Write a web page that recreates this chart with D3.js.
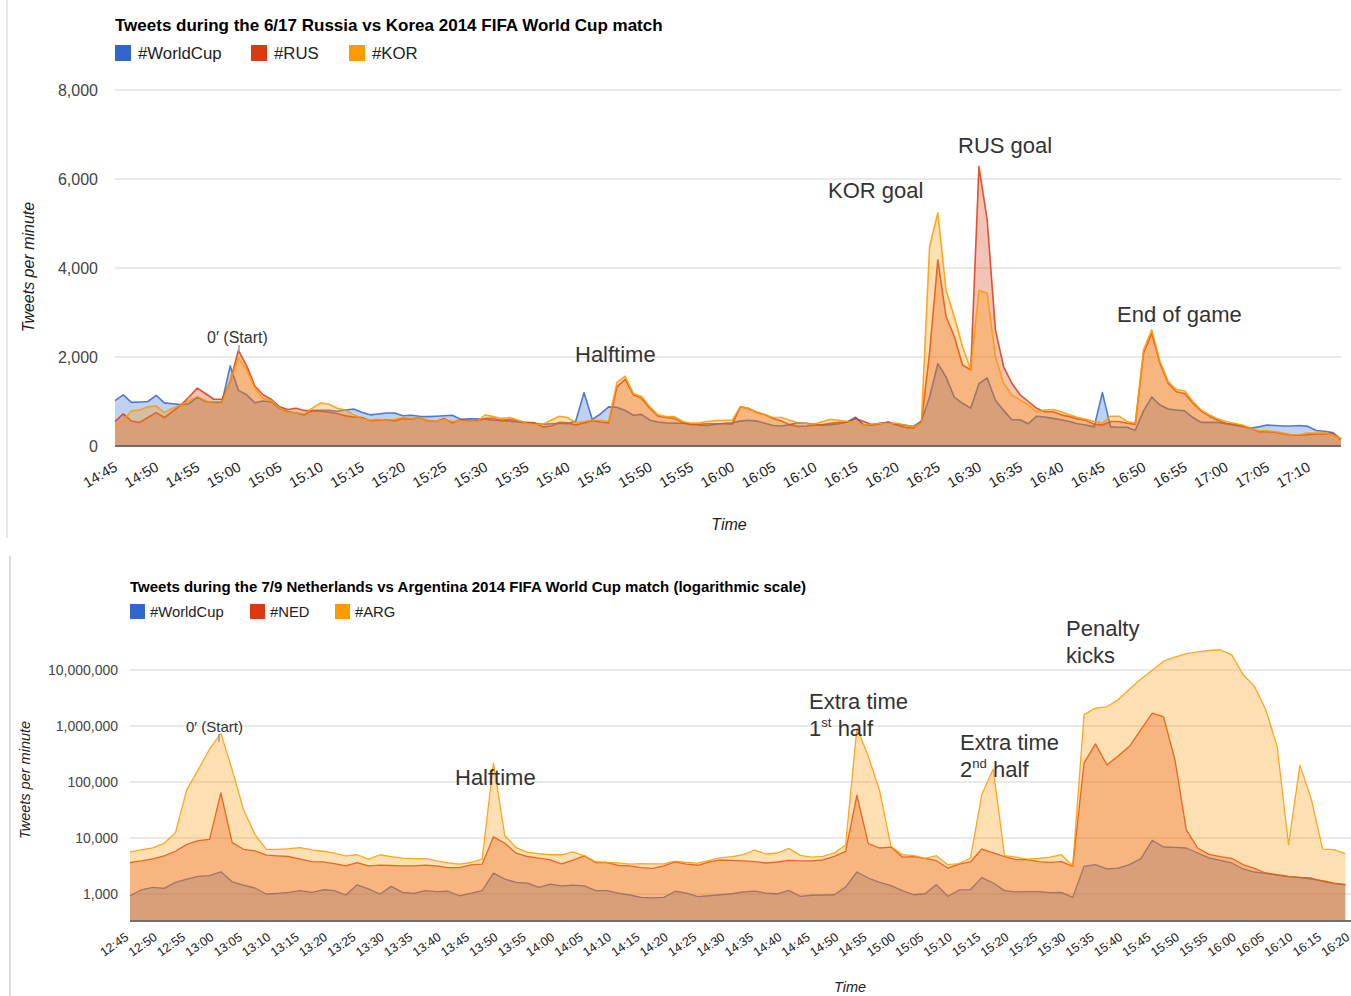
<!DOCTYPE html>
<html>
<head>
<meta charset="utf-8">
<script src="https://cdn.jsdelivr.net/npm/d3@7"></script>
<style>
  body { margin: 0; background: #fff; }
  svg text { font-family: Arial, "Liberation Sans", sans-serif; }
</style>
</head>
<body>
<svg id="chart" width="1351" height="996"></svg>
<script>
// ---- 6/17 Russia vs Korea, one value per minute from 14:45 ----
const rusKorStart = "14:45";
const rusKorWorldCup = [
  1020,1150,980,990,1000,1140,970,950,930,950,
  1100,1000,980,980,1800,1250,1150,970,1010,990,
  840,770,740,700,800,800,800,780,810,830,
  760,700,720,740,740,680,690,670,660,670,
  680,690,600,610,610,600,580,570,560,540,
  520,510,490,500,510,500,560,1200,600,720,
  880,870,800,690,710,580,540,520,510,510,
  500,470,460,490,510,520,560,580,560,510,
  460,450,480,520,510,490,470,480,500,540,
  650,470,470,510,530,490,470,440,560,1100,
  1850,1550,1100,960,850,1400,1530,1030,800,590,
  590,500,670,650,620,590,550,500,470,430,
  1200,430,420,420,350,790,1100,920,830,810,
  790,640,530,530,530,500,470,450,400,430,
  470,460,450,450,460,440,350,330,300,150
];
const rusKorRUS = [
  550,720,560,530,640,750,640,780,920,1100,
  1300,1180,1050,1050,1450,2150,1800,1350,1150,1050,
  880,820,850,800,790,780,760,730,680,650,
  640,570,580,590,560,620,600,640,570,550,
  620,520,590,560,560,620,620,580,600,560,
  530,520,430,450,530,520,470,520,570,540,
  520,1330,1500,1150,1070,850,670,640,620,520,
  480,490,500,500,500,490,880,840,760,700,
  620,560,480,440,450,470,480,510,530,540,
  620,550,480,500,540,470,420,400,530,2100,
  4180,2910,2460,1820,1710,6280,5080,2610,1780,1410,
  1150,1000,850,770,770,700,660,610,580,490,
  470,550,550,510,490,2090,2530,1860,1410,1220,
  1180,960,790,670,580,510,490,440,400,320,
  320,310,270,240,240,260,270,270,285,150
];
const rusKorKOR = [
  430,570,790,810,880,900,750,850,920,1020,
  1110,1020,960,960,1480,1970,1710,1300,1070,1020,
  850,750,750,720,850,970,940,850,810,700,
  620,580,600,580,600,640,620,640,580,550,
  600,550,570,550,550,700,660,620,640,580,
  510,490,490,580,670,640,520,550,580,580,
  550,1430,1570,1180,1110,880,700,660,660,550,
  510,520,550,570,580,580,880,850,750,700,
  640,640,580,520,510,490,550,600,580,550,
  520,470,490,510,510,510,470,430,510,4480,
  5240,3500,2910,2230,1720,3500,3430,2010,1410,1150,
  1030,920,770,810,820,770,700,640,600,550,
  510,670,670,550,510,2160,2610,1900,1450,1270,
  1240,1000,810,700,610,550,510,470,400,340,
  340,320,290,250,260,290,290,300,250,170
];
const rusKorTicks = ["14:45","14:50","14:55","15:00","15:05","15:10","15:15","15:20","15:25","15:30",
  "15:35","15:40","15:45","15:50","15:55","16:00","16:05","16:10","16:15","16:20",
  "16:25","16:30","16:35","16:40","16:45","16:50","16:55","17:00","17:05","17:10"];
const rusKorYTicks = [0, 2000, 4000, 6000, 8000];

// ---- 7/9 Netherlands vs Argentina, one value every 2 minutes from 12:45 ----
const nedArgStart = "12:45";
const nedArgWorldCup = [
  930,1190,1310,1260,1610,1850,2060,2120,2490,1650,
  1440,1280,1000,1030,1070,1150,1070,1190,1150,960,
  1460,1230,1000,1370,1070,1030,1150,1100,1120,930,
  1030,1150,2360,1850,1610,1570,1310,1500,1400,1440,
  1400,1150,1150,1040,960,870,850,870,1120,1040,
  900,930,970,1010,1090,1130,1040,1010,1160,910,
  950,960,970,1330,2470,1930,1620,1410,1150,970,
  1010,1470,910,1180,1200,1960,1570,1150,1090,1100,
  1100,1060,1070,870,3120,3340,2800,2900,3340,4280,
  9100,6900,6800,6630,5400,4400,3990,3580,2800,2470,
  2340,2180,2040,1980,1930,1680,1530,1450
];
const nedArgNED = [
  3650,3900,4240,4790,5800,7700,8950,9470,64000,8260,
  6290,5880,4930,4790,4670,4180,3800,3750,3500,3190,
  3650,3190,3270,3230,3190,3190,3270,3190,2970,2970,
  3310,3410,10500,8050,5350,4670,4360,4070,3460,4010,
  4790,3650,3650,3230,3190,2970,2860,3190,3750,3410,
  3260,3730,4050,4000,3890,3780,3580,3730,4000,3890,
  3890,4050,4700,5780,58000,7920,6630,6900,4570,4640,
  4340,3930,2910,3430,3730,6350,5400,4640,4100,4100,
  3780,3680,3780,3120,220000,480000,202000,290000,433000,860000,
  1700000,1450000,250000,14000,6630,5100,4640,4340,3340,2870,
  2370,2210,2070,1960,1850,1730,1570,1490
];
const nedArgARG = [
  5640,6130,6640,8050,12400,73000,165000,385000,740000,165000,
  32000,11600,6290,6290,6450,6740,6130,5800,5350,4790,
  5020,4180,5020,4670,4360,4300,4300,3900,3600,3410,
  3650,4180,218000,11000,6740,5560,5270,5020,5020,5640,
  4790,3750,3650,3600,3410,3500,3460,3460,3850,3650,
  3570,3990,4460,4640,5040,6100,5180,5400,6540,4900,
  4570,4700,5400,7500,920000,290000,70000,7100,5040,4840,
  4340,4840,3340,3480,4400,60000,170000,4840,4570,4210,
  4340,4570,5040,3200,1600000,2080000,2200000,2950000,4560000,6900000,
  9900000,14400000,17000000,19600000,21000000,22300000,23000000,18600000,8300000,5100000,
  1950000,430000,7600,200000,50000,6350,6190,5250
];
const nedArgTicks = ["12:45","12:50","12:55","13:00","13:05","13:10","13:15","13:20","13:25","13:30",
  "13:35","13:40","13:45","13:50","13:55","14:00","14:05","14:10","14:15","14:20",
  "14:25","14:30","14:35","14:40","14:45","14:50","14:55","15:00","15:05","15:10",
  "15:15","15:20","15:25","15:30","15:35","15:40","15:45","15:50","15:55","16:00",
  "16:05","16:10","16:15","16:20"];
const nedArgYTicks = [1000, 10000, 100000, 1000000, 10000000];

const colors = ["#3366cc", "#dc3912", "#ff9900"];

const svg = d3.select("#chart");
const parseTime = d3.timeParse("%H:%M");
const fmtTime = d3.timeFormat("%H:%M");

// faint borders of the two screenshots
svg.append("line").attr("x1", 7).attr("x2", 7).attr("y1", 0).attr("y2", 538)
  .attr("stroke", "#e8e8e8").attr("stroke-width", 2);
svg.append("line").attr("x1", 10).attr("x2", 10).attr("y1", 556).attr("y2", 996)
  .attr("stroke", "#dcdcdc").attr("stroke-width", 2);

function drawPanel(o) {
  const g = svg.append("g");
  const timeAt = i => d3.timeMinute.offset(parseTime(o.start), i * o.step);
  const [x0, x1] = o.x.range();

  // title + legend
  g.append("text").attr("x", x0).attr("y", o.titleY).attr("font-size", o.titleFont)
    .attr("font-weight", "bold").attr("fill", "#000").text(o.title);
  o.series.forEach((s, i) => {
    g.append("rect").attr("x", o.legendX[i]).attr("y", o.legendY - o.sq + 2)
      .attr("width", o.sq).attr("height", o.sq).attr("fill", colors[i]);
    g.append("text").attr("x", o.legendX[i] + o.sq + o.legendGap).attr("y", o.legendY)
      .attr("font-size", o.legendFont).attr("fill", "#222").text(s.name);
  });

  // gridlines
  g.selectAll(null).data(o.yTicks.filter(d => o.y(d) < o.base - 1)).join("line")
    .attr("x1", x0).attr("x2", x1)
    .attr("y1", d => o.y(d)).attr("y2", d => o.y(d))
    .attr("stroke", "#d6d6d6").attr("stroke-width", 1.2);

  // y axis labels
  const ya = g.append("g").attr("transform", `translate(${o.yLabelX},0)`)
    .call(d3.axisLeft(o.y).tickValues(o.yTicks).tickFormat(d3.format(",")).tickSize(0).tickPadding(0));
  ya.select(".domain").remove();
  ya.selectAll("text").attr("font-size", o.yFont).attr("fill", "#444")
    .attr("font-family", "Arial, 'Liberation Sans', sans-serif");

  // areas and lines
  o.series.forEach((s, k) => {
    const area = d3.area().x((d, i) => o.x(timeAt(i))).y0(o.base).y1(d => o.y(d));
    const line = d3.line().x((d, i) => o.x(timeAt(i))).y(d => o.y(d));
    g.append("path").datum(s.values).attr("d", area)
      .attr("fill", colors[k]).attr("fill-opacity", 0.3);
    g.append("path").datum(s.values).attr("d", line)
      .attr("fill", "none").attr("stroke", colors[k]).attr("stroke-width", o.lw)
      .attr("stroke-linejoin", "round").attr("stroke-opacity", 0.85);
  });

  // baseline
  g.append("line").attr("x1", x0).attr("x2", x1).attr("y1", o.base).attr("y2", o.base)
    .attr("stroke", "#6f6f6f").attr("stroke-width", 2);

  // x axis
  const xa = g.append("g").attr("transform", `translate(0,${o.base})`)
    .call(d3.axisBottom(o.x).tickValues(o.xTicks.map(parseTime)).tickFormat(fmtTime).tickSize(0));
  xa.select(".domain").remove();
  xa.selectAll("text").attr("y", 0).attr("dy", 0).attr("text-anchor", "end")
    .attr("font-size", o.xFont).attr("fill", "#222")
    .attr("font-family", "Arial, 'Liberation Sans', sans-serif")
    .attr("transform", `translate(${o.xdx},${o.xdy}) rotate(${o.rot})`);

  // axis titles
  g.append("text").attr("x", o.timeX).attr("y", o.timeY).attr("text-anchor", "middle")
    .attr("font-size", o.axisFont).attr("font-style", "italic").attr("fill", "#222").text("Time");
  g.append("text").attr("transform", `translate(${o.yTitleX},${o.yTitleY}) rotate(-90)`)
    .attr("text-anchor", "middle").attr("font-size", o.axisFont).attr("font-style", "italic")
    .attr("fill", "#222").text("Tweets per minute");

  return g;
}

// annotation text; a line is a list of plain strings or {sup, after} parts
function note(g, x, y, size, lines) {
  lines.forEach((ln, i) => {
    const t = g.append("text").attr("x", x).attr("y", y + i * size * 1.22)
      .attr("font-size", size).attr("fill", "#333");
    ln.forEach(part => {
      if (typeof part === "object") {
        t.append("tspan").attr("font-size", size * 0.6).attr("dy", -size * 0.38).text(part.sup);
        t.append("tspan").attr("dy", size * 0.38).text(part.after);
      } else {
        t.append("tspan").text(part);
      }
    });
  });
}

// ---- top panel ----
const topPanel = drawPanel({
  title: "Tweets during the 6/17 Russia vs Korea 2014 FIFA World Cup match",
  titleY: 31, titleFont: 17,
  legendX: [115, 251, 349], legendY: 59, sq: 16, legendGap: 7, legendFont: 16.8,
  series: [
    { name: "#WorldCup", values: rusKorWorldCup },
    { name: "#RUS", values: rusKorRUS },
    { name: "#KOR", values: rusKorKOR }
  ],
  start: rusKorStart, step: 1,
  x: d3.scaleTime().domain([parseTime("14:45"), parseTime("17:14")]).range([115, 1341]),
  y: d3.scaleLinear().domain([0, 8000]).range([446, 90]),
  base: 446,
  yTicks: rusKorYTicks, yLabelX: 98, yFont: 16,
  xTicks: rusKorTicks, xFont: 14.5, xdx: 3, xdy: 24, rot: -30,
  lw: 1.6,
  timeX: 729, timeY: 530, yTitleX: 34, yTitleY: 267, axisFont: 16
});
note(topPanel, 207, 343, 16, [["0\u2032 (Start)"]]);
topPanel.append("line").attr("x1", 239).attr("x2", 239).attr("y1", 345).attr("y2", 352)
  .attr("stroke", "#999").attr("stroke-width", 1.5);
note(topPanel, 575, 362, 22, [["Halftime"]]);
note(topPanel, 828, 198, 22, [["KOR goal"]]);
note(topPanel, 958, 153, 22, [["RUS goal"]]);
note(topPanel, 1117, 322, 22, [["End of game"]]);

// ---- bottom panel ----
const bottomPanel = drawPanel({
  title: "Tweets during the 7/9 Netherlands vs Argentina 2014 FIFA World Cup match (logarithmic scale)",
  titleY: 592, titleFont: 15,
  legendX: [130, 250, 335], legendY: 617, sq: 15, legendGap: 5, legendFont: 14.8,
  series: [
    { name: "#WorldCup", values: nedArgWorldCup },
    { name: "#NED", values: nedArgNED },
    { name: "#ARG", values: nedArgARG }
  ],
  start: nedArgStart, step: 2,
  x: d3.scaleTime().domain([parseTime("12:45"), parseTime("16:20")]).range([130, 1351]),
  y: d3.scaleLog().domain([1000, 10000000]).range([894, 670]),
  base: 921,
  yTicks: nedArgYTicks, yLabelX: 118, yFont: 14,
  xTicks: nedArgTicks, xFont: 12.5, xdx: -1, xdy: 18, rot: -35,
  lw: 1.3,
  timeX: 850, timeY: 992, yTitleX: 30, yTitleY: 780, axisFont: 14.5
});
note(bottomPanel, 186, 732, 15, [["0\u2032 (Start)"]]);
bottomPanel.append("line").attr("x1", 219).attr("x2", 219).attr("y1", 734).attr("y2", 742)
  .attr("stroke", "#999").attr("stroke-width", 1.5);
note(bottomPanel, 455, 785, 22, [["Halftime"]]);
note(bottomPanel, 809, 709, 22, [["Extra time"], ["1", { sup: "st", after: " half" }]]);
note(bottomPanel, 960, 750, 22, [["Extra time"], ["2", { sup: "nd", after: " half" }]]);
note(bottomPanel, 1066, 636, 22, [["Penalty"], ["kicks"]]);
</script>
</body>
</html>
